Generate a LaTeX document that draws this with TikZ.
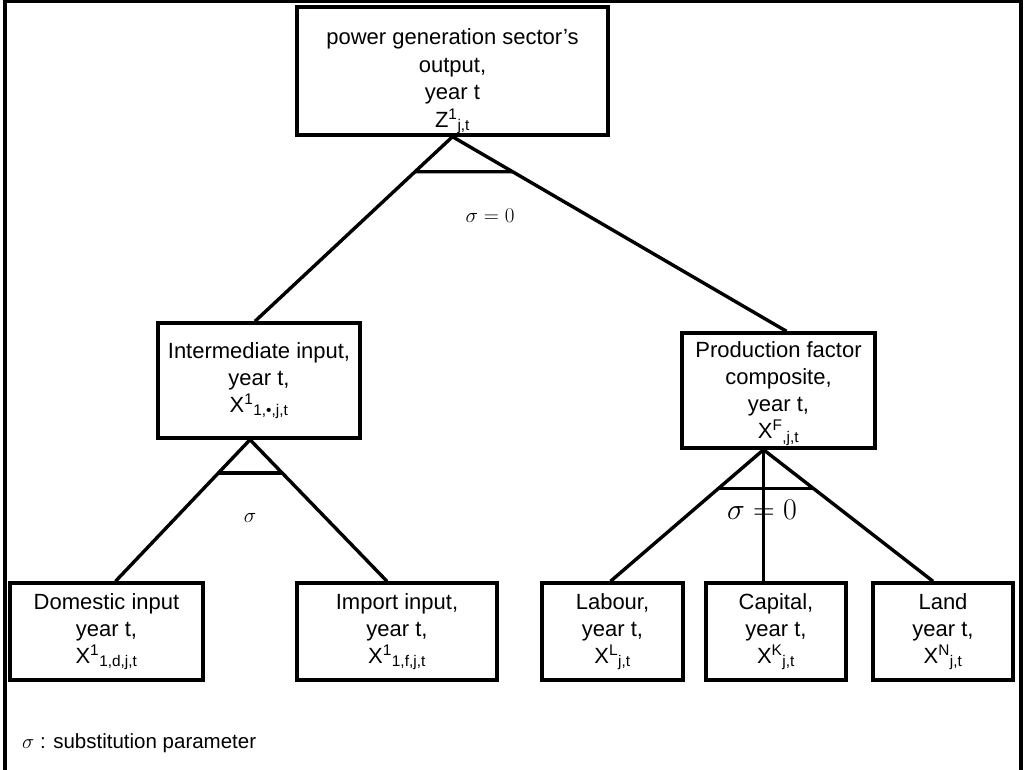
\RequirePackage{fix-cm}
\documentclass[tikz,border=0pt]{standalone}
\usepackage[no-math]{fontspec}
\setmainfont{Liberation Sans}
\usetikzlibrary{positioning, calc}

\begin{document}
\begin{tikzpicture}[
  x=1pt, y=-1pt,
  font=\fontsize{22}{27}\selectfont,
  box/.style={draw, line width=3.4pt, align=center, inner sep=0pt},
  link/.style={line width=3.4pt},
  sig/.style={font=\fontsize{21}{24}\selectfont}
]
\useasboundingbox (0,0) rectangle (1026,770);
% --- outer frame (open at the bottom) ---
\draw[link] (5,775) -- (5,1) -- (1021,1) -- (1021,775);

% --- top: sector output ---
\node[box, minimum width=311, minimum height=128, font=\fontsize{22}{27.5}\selectfont] (out) at (452.5,71)
  {\rule{0pt}{37pt}power generation sector's\\output,\\year t\\Z\textsuperscript{1}\textsubscript{j,t}};

% --- second level ---
\node[box, minimum width=202, minimum height=115] (inter) at (259,380.5)
  {Intermediate input,\\year t,\\X\textsuperscript{1}\textsubscript{1,\textbullet,j,t}};
\node[box, minimum width=193, minimum height=115] (prod) at (778.5,390.5)
  {\rule{0pt}{22pt}Production factor\\composite,\\year t,\\X\textsuperscript{F}\textsubscript{,j,t}};

% --- bottom row ---
\node[box, minimum width=193, minimum height=97] (dom) at (106.5,631.5)
  {Domestic input\\year t,\\X\textsuperscript{1}\textsubscript{1,d,j,t}};
\node[box, minimum width=200, minimum height=97] (imp) at (397,631.5)
  {Import input,\\year t,\\X\textsuperscript{1}\textsubscript{1,f,j,t}};
\node[box, minimum width=141, minimum height=97] (lab) at (612.5,631.5)
  {Labour,\\year t,\\X\textsuperscript{L}\textsubscript{j,t}};
\node[box, minimum width=140, minimum height=97] (cap) at (776,631.5)
  {Capital,\\year t,\\X\textsuperscript{K}\textsubscript{j,t}};
\node[box, minimum width=140, minimum height=97] (land) at (943,631.5)
  {Land\\year t,\\X\textsuperscript{N}\textsubscript{j,t}};

% --- top nest ---
\coordinate (a1) at (out.south);
\coordinate (l1) at ([xshift=-4pt]inter.north);
\coordinate (r1) at ([xshift=8pt]prod.north);
\draw[link] (a1) -- (l1);
\draw[link] (a1) -- (r1);
\draw[link] ($(a1)!0.19!(l1)$) -- ($(a1)!0.18!(r1)$);
\node[sig] (s1) at (490,216) {$\sigma = 0$};

% --- intermediate nest ---
\coordinate (a2) at ([xshift=-9pt]inter.south);
\coordinate (l2) at ([xshift=9pt]dom.north);
\coordinate (r2) at ([xshift=-10pt]imp.north);
\draw[link] (a2) -- (l2);
\draw[link] (a2) -- (r2);
\draw[link] ($(a2)!0.234!(l2)$) -- ($(a2)!0.234!(r2)$);
\node[sig] (s2) at (250,518) {$\sigma$};

% --- factor nest ---
\coordinate (a3) at ([xshift=-15pt]prod.south);
\coordinate (l3) at ([xshift=-2pt]lab.north);
\coordinate (r3) at ([xshift=-10pt]land.north);
\draw[link] (a3) -- (l3);
\draw[link] (a3) -- (a3 |- cap.north);
\draw[link] (a3) -- (r3);
\draw[link] ($(a3)!0.296!(l3)$) -- ($(a3)!0.296!(r3)$);
\node[font=\fontsize{30}{36}\selectfont] (s3) at (762,510) {$\sigma = 0$};

% legend
\node[anchor=west, inner sep=0pt, font=\fontsize{20.5}{24}\selectfont] (key) at (22,743) {$\sigma$ : substitution parameter};
\end{tikzpicture}
\end{document}
